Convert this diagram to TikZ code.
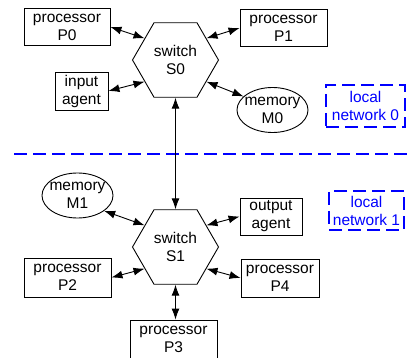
\documentclass[tikz,border=0pt]{standalone}
\usepackage{fontspec}
\setmainfont{Liberation Sans}
\usetikzlibrary{calc}
\usetikzlibrary{arrows.meta}
\usetikzlibrary{shapes.geometric}

\begin{document}
\begin{tikzpicture}[
        x=1pt, y=-1pt,
        font=\fontsize{15.5}{18}\selectfont,
        unit/.style={draw,rectangle,align=center,minimum width=86pt,minimum height=37pt,inner sep=0pt,line width=0.9pt},
        mem/.style={draw,ellipse,align=center,minimum width=71pt,minimum height=45pt,inner xsep=-4pt,inner ysep=-2pt,line width=0.9pt},
        hub/.style={draw,regular polygon,regular polygon sides=6,minimum size=86pt,inner sep=0pt,align=center,line width=0.9pt},
        net/.style={draw=blue,text=blue,dash pattern=on 13pt off 6pt,line width=2.4pt,align=center,inner sep=0pt},
        link/.style={<->,line width=0.9pt},
        >={Latex[length=11pt,width=8pt]}
    ]
        \useasboundingbox (0,0) rectangle (407,358);
        % local network 0
        \node[hub] (s0) at (175.5,60) {switch\\S0};
        \node[unit] (p0) at (67,27) {processor\\P0};
        \node[unit,minimum width=87pt] (p1) at (283.5,28) {processor\\P1};
        \node[unit,minimum width=53pt,minimum height=38pt] (in) at (81.5,91) {input\\agent};
        \node[mem] (m0) at (272.5,110) {memory\\M0};
        \node[net,minimum width=79pt,minimum height=42pt] (n0) at (365.5,106) {local\\network 0};
        % local network 1
        \node[hub] (s1) at ($(s0)+(0,187)$) {switch\\S1};
        \node[mem] (m1) at (77.5,195.5) {memory\\M1};
        \node[unit,minimum width=62pt] (out) at (271,216.5) {output\\agent};
        \node[net,minimum width=75pt,minimum height=39pt] (n1) at (366.5,210.5) {local\\network 1};
        \node[unit,minimum width=87pt,minimum height=39pt] (p2) at (67.5,277.5) {processor\\P2};
        \node[unit,minimum width=78pt,minimum height=38pt] (p4) at (280,278) {processor\\P4};
        \node[unit,minimum width=87pt,minimum height=38pt] (p3) at (173.5,339) {processor\\P3};
        % boundary between the two networks
        \draw[draw=blue,dash pattern=on 13pt off 6pt,line width=2.4pt] (14,154) -- (407,154);
        \draw[link] (p0.east) -- (s0.145);
        \draw[link] (p1.west) -- (s0.35);
        \draw[link] (in.east) -- (s0.215);
        \draw[link] (m0.155) -- (s0.325);
        \draw[link] (s0.south) -- (s1.north);
        \draw[link] (m1.330) -- (s1.145);
        \draw[link] (out.west) -- (s1.35);
        \draw[link] (p2.east) -- (s1.215);
        \draw[link] (p4.west) -- (s1.325);
        \draw[link] (s1.south) -- (s1.south |- p3.north);
    \end{tikzpicture}
\end{document}
